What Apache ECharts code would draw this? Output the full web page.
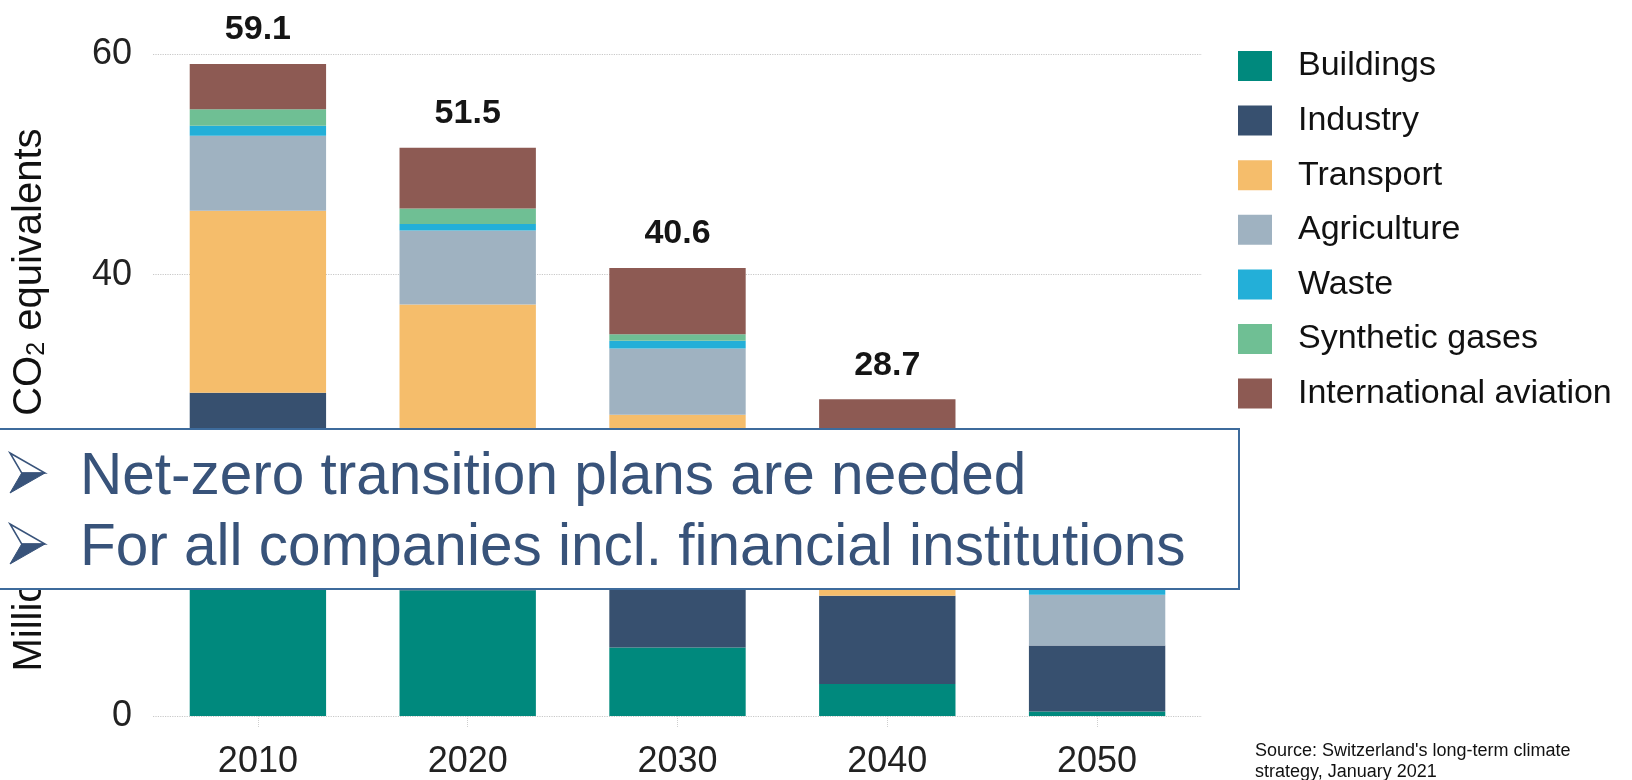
<!DOCTYPE html>
<html>
<head>
<meta charset="utf-8">
<script src="https://cdn.jsdelivr.net/npm/echarts@6/dist/echarts.min.js"></script>
<style>
html,body{margin:0;padding:0;background:#fff;}
#chart{width:1632px;height:780px;}
</style>
</head>
<body>
<div id="chart"></div>
<script>
const categories = ['2010', '2020', '2030', '2040', '2050'];
const seriesNames = ['Buildings', 'Industry', 'Transport', 'Agriculture', 'Waste', 'Synthetic gases', 'International aviation'];
const buildings   = [16.3, 11.4, 6.2, 2.9, 0.4];
const industry    = [13.0, 10.9, 10.8, 8.0, 6.0];
const transport   = [16.5, 15.0, 10.3, 4.0, 0.0];
const agriculture = [6.8, 6.7, 6.0, 5.8, 4.6];
const waste       = [0.9, 0.6, 0.7, 0.6, 1.0];
const synthetic   = [1.5, 1.4, 0.6, 0.4, 0.2];
const aviation    = [4.1, 5.5, 6.0, 7.0, 4.5];
const totals      = [59.1, 51.5, 40.6, 28.7, 16.7];
const yTickValues = [0, 20, 40, 60];
const boxLines = ['Net-zero transition plans are needed', 'For all companies incl. financial institutions'];
const sourceLines = ["Source: Switzerland's long-term climate", 'strategy, January 2021'];
const yAxisTitle = ['Million tonnes CO', '2', ' equivalents'];

const colors = ['#00897d', '#37506f', '#f5bd6b', '#9fb2c1', '#23afd8', '#6fbf94', '#8d5a53'];
const seriesData = [buildings, industry, transport, agriculture, waste, synthetic, aviation];
const FONT = '"Liberation Sans", Arial, Helvetica, sans-serif';

const chart = echarts.init(document.getElementById('chart'));

const series = seriesNames.map((name, i) => {
  const s = {
    name: name,
    type: 'bar',
    stack: 'total',
    barCategoryGap: '35%',
    data: seriesData[i],
    itemStyle: { color: colors[i] },
    emphasis: { disabled: true }
  };
  if (i === seriesNames.length - 1) {
    s.label = {
      show: true,
      position: 'top',
      distance: 17,
      formatter: p => totals[p.dataIndex].toFixed(1),
      fontFamily: FONT,
      fontWeight: 'bold',
      fontSize: 34,
      color: '#151515'
    };
  }
  return s;
});

function arrow(tipY) {
  const lx = 10, tx = 45, nx = 21.7;
  return [
    {
      type: 'polygon', z: 102,
      shape: { points: [[lx, tipY - 20], [tx, tipY], [nx, tipY]] },
      style: { fill: '#ffffff', stroke: '#38537a', lineWidth: 1.5 }
    },
    {
      type: 'polygon', z: 102,
      shape: { points: [[nx, tipY], [tx, tipY], [lx, tipY + 20]] },
      style: { fill: '#38537a', stroke: '#38537a', lineWidth: 1 }
    }
  ];
}

const graphics = [
  {
    type: 'rect', z: 100,
    shape: { x: -2, y: 429, width: 1241, height: 160 },
    style: { fill: '#ffffff', stroke: '#3d6b9c', lineWidth: 2 }
  },
  ...arrow(473),
  ...arrow(544),
  {
    type: 'text', z: 102, x: 80, y: 478,
    style: { text: boxLines[0], font: '58.5px ' + FONT, fill: '#38537a', verticalAlign: 'middle', align: 'left' }
  },
  {
    type: 'text', z: 102, x: 80, y: 549,
    style: { text: boxLines[1], font: '58.5px ' + FONT, fill: '#38537a', verticalAlign: 'middle', align: 'left' }
  },
  {
    type: 'text', z: 102, x: 1255, y: 741,
    style: { text: sourceLines.join('\n'), font: '18px ' + FONT, fill: '#111111', lineHeight: 21, verticalAlign: 'top', align: 'left' }
  }
];

chart.setOption({
  animation: false,
  backgroundColor: '#ffffff',
  color: colors,
  grid: { left: 153, right: 430, top: 54, bottom: 62 },
  legend: {
    orient: 'vertical',
    left: 1238,
    top: 49,
    padding: 0,
    icon: 'rect',
    itemWidth: 34,
    itemHeight: 30,
    itemGap: 20.6,
    selectedMode: false,
    data: seriesNames,
    textStyle: { fontFamily: FONT, fontSize: 34, color: '#111111', padding: [0, 0, 0, 21] }
  },
  xAxis: {
    type: 'category',
    data: categories,
    axisLine: { show: false },
    axisTick: { show: true, alignWithLabel: true, length: 12, lineStyle: { color: '#cfcfcf', type: 'dotted', width: 1 } },
    axisLabel: { fontFamily: FONT, fontSize: 36, color: '#222222', margin: 28 },
    splitLine: { show: false }
  },
  yAxis: {
    type: 'value',
    min: 0, max: 60, interval: 20,
    axisLine: { show: false },
    axisTick: { show: false },
    axisLabel: { fontFamily: FONT, fontSize: 36, color: '#222222', margin: 21,
      formatter: v => (yTickValues.indexOf(v) >= 0 ? String(v) : '') },
    splitLine: { show: true, lineStyle: { color: '#c8c8c8', type: 'dotted', width: 1.2 } },
    name: '{a|' + yAxisTitle[0] + '}{b|' + yAxisTitle[1] + '}{a|' + yAxisTitle[2] + '}',
    nameLocation: 'middle',
    nameGap: 103,
    nameRotate: 90,
    nameTextStyle: {
      fontFamily: FONT, fontSize: 40, color: '#111111',
      padding: [0, 30, 0, 0],
      rich: {
        a: { fontFamily: FONT, fontSize: 40, color: '#111111' },
        b: { fontFamily: FONT, fontSize: 25, color: '#111111', padding: [14, 0, 0, 0] }
      }
    }
  },
  series: series,
  graphic: graphics
});
</script>
</body>
</html>
